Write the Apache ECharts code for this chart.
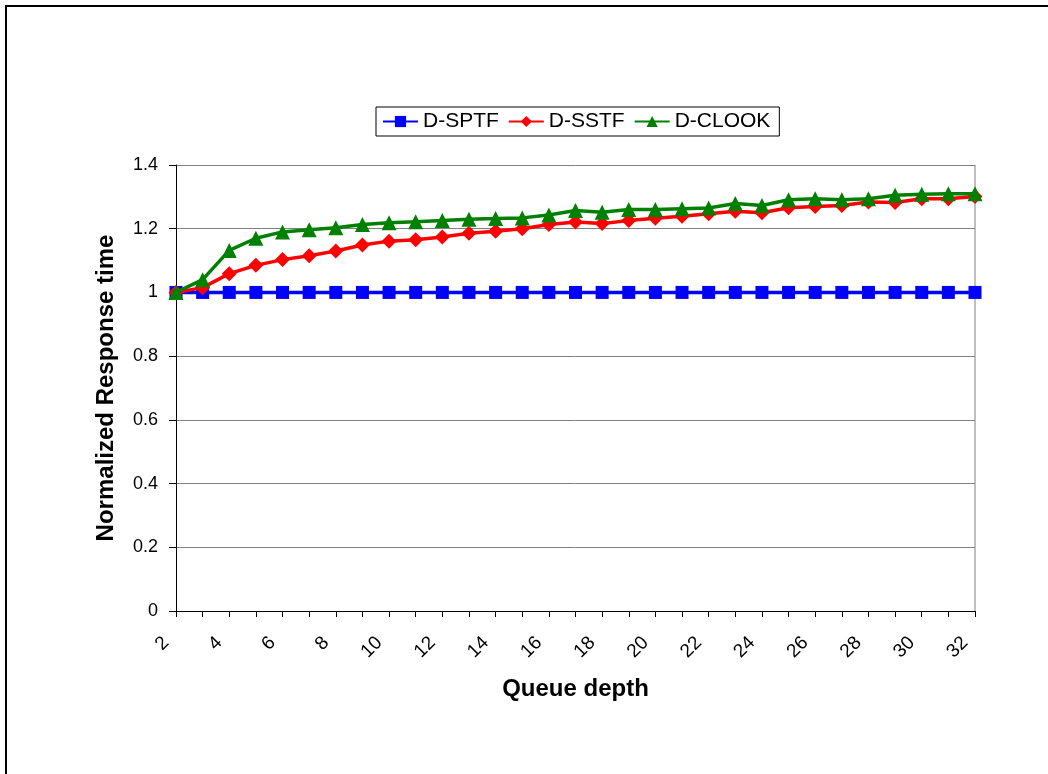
<!DOCTYPE html>
<html>
<head>
<meta charset="utf-8">
<script src="https://cdn.jsdelivr.net/npm/echarts@6/dist/echarts.min.js"></script>
<style>
  html, body { margin: 0; padding: 0; background: #fff; }
  #chart { width: 1048px; height: 774px; }
</style>
</head>
<body>
<div id="chart"></div>
<script>
// queue depth 2..32
var depths = ['2', '3', '4', '5', '6', '7', '8', '9', '10', '11', '12', '13', '14', '15', '16', '17',
  '18', '19', '20', '21', '22', '23', '24', '25', '26', '27', '28', '29', '30', '31', '32']
var sptf = [1, 1, 1, 1, 1, 1, 1, 1, 1, 1, 1, 1, 1, 1, 1, 1,
  1, 1, 1, 1, 1, 1, 1, 1, 1, 1, 1, 1, 1, 1, 1]
var sstf = [1.0, 1.015, 1.059, 1.085, 1.103, 1.115, 1.13, 1.149, 1.161, 1.165, 1.174, 1.186, 1.192, 1.2, 1.213, 1.221,
  1.216, 1.226, 1.233, 1.239, 1.247, 1.255, 1.25, 1.266, 1.27, 1.273, 1.284, 1.282, 1.294, 1.294, 1.301]
var clook = [1.0, 1.04, 1.132, 1.17, 1.19, 1.197, 1.203, 1.213, 1.219, 1.222, 1.226, 1.23, 1.232, 1.234, 1.243, 1.257,
  1.252, 1.26, 1.26, 1.263, 1.265, 1.279, 1.273, 1.291, 1.294, 1.291, 1.294, 1.305, 1.308, 1.31, 1.31]

var myChart = echarts.init(document.getElementById('chart'))
var font = 'Liberation Sans, Arial, sans-serif'

var option = {
  animation: false,
  backgroundColor: '#fff',
  graphic: [{
    // outer frame, only top and left edges are visible
    type: 'rect',
    shape: { x: 6, y: 6, width: 1100, height: 900 },
    style: { fill: 'none', stroke: '#000', lineWidth: 2 }
  }, {
    // right border of the plot area
    type: 'line',
    shape: { x1: 975, y1: 165, x2: 975, y2: 611 },
    style: { stroke: '#808080', lineWidth: 1 }
  }],
  legend: {
    left: 376,
    top: 107,
    orient: 'horizontal',
    borderColor: '#000',
    borderWidth: 1,
    padding: [4, 9, 4, 6],
    itemGap: 9,
    itemWidth: 35,
    itemHeight: 14,
    textStyle: { fontFamily: font, fontSize: 21, color: '#000' },
    data: ['D-SPTF', 'D-SSTF', 'D-CLOOK']
  },
  grid: {
    left: 176,
    right: 73,
    top: 165,
    bottom: 163
  },
  xAxis: {
    type: 'category',
    boundaryGap: false,
    data: depths,
    name: 'Queue depth',
    nameLocation: 'middle',
    nameGap: 66,
    nameTextStyle: { fontFamily: font, fontSize: 24, fontWeight: 'bold', color: '#000' },
    axisLine: { lineStyle: { color: '#000', width: 1 } },
    axisTick: { interval: 0, length: 6, lineStyle: { color: '#000' } },
    axisLabel: {
      interval: 1,
      rotate: 45,
      margin: 19,
      padding: [0, 14, 0, 0],
      fontFamily: font,
      fontSize: 19,
      color: '#000'
    },
    splitLine: { show: false }
  },
  yAxis: {
    type: 'value',
    min: 0,
    max: 1.4,
    interval: 0.2,
    name: 'Normalized Response time',
    nameLocation: 'middle',
    nameGap: 58,
    nameTextStyle: { fontFamily: font, fontSize: 24, fontWeight: 'bold', color: '#000' },
    axisLine: { show: true, lineStyle: { color: '#000', width: 1 } },
    axisTick: { show: true, length: 7, lineStyle: { color: '#000' } },
    axisLabel: { margin: 18, fontFamily: font, fontSize: 18, color: '#000' },
    splitLine: { show: true, lineStyle: { color: '#808080', width: 1 } }
  },
  series: [
    {
      name: 'D-SPTF',
      type: 'line',
      data: sptf,
      color: '#0000ff',
      symbol: 'rect',
      symbolSize: 13,
      lineStyle: { width: 3.5 },
      z: 2
    },
    {
      name: 'D-SSTF',
      type: 'line',
      data: sstf,
      color: '#ff0000',
      symbol: 'diamond',
      symbolSize: 15,
      lineStyle: { width: 3.5 },
      z: 3
    },
    {
      name: 'D-CLOOK',
      type: 'line',
      data: clook,
      color: '#008000',
      symbol: 'triangle',
      symbolSize: 15,
      lineStyle: { width: 3.5 },
      z: 4
    }
  ]
}

myChart.setOption(option)
</script>
</body>
</html>
